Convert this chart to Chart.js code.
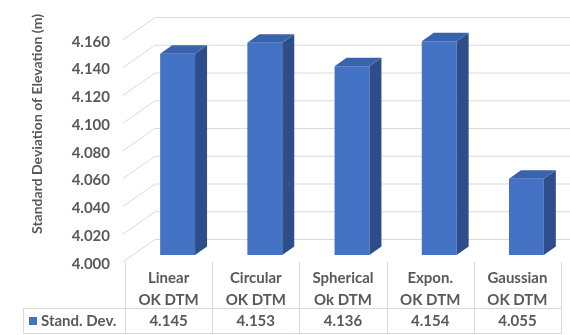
<!DOCTYPE html>
<html>
<head>
<meta charset="utf-8">
<script src="https://cdn.jsdelivr.net/npm/chart.js"></script>
<style>
html,body{margin:0;padding:0;background:#fff;}
#c{display:block;}
</style>
</head>
<body>
<canvas id="c" width="570" height="335"></canvas>
<script>
// ---- data ----
const categoryNames = ['Linear', 'Circular', 'Spherical', 'Expon.', 'Gaussian'];
const categorySubs  = ['OK DTM', 'OK DTM', 'Ok DTM', 'OK DTM', 'OK DTM'];
const seriesName    = 'Stand. Dev.';
const seriesValues  = [4.145, 4.153, 4.136, 4.154, 4.055];
const yTickValues   = [4.000, 4.020, 4.040, 4.060, 4.080, 4.100, 4.120, 4.140, 4.160];
const yTitle        = 'Standard Deviation of Elevation (m)';

// ---- style ----
const FONT = 'Lato';
const TEXT = '#595959';
const GRID = '#D9D9D9';
const FRONT = '#4472C4', TOPF = '#3A63AD', SIDE = '#2D4E8B';
const BAR_DX = 12, BAR_DY = -8.5;      // bar depth
const WALL_DX = 32;                     // side-wall depth (x)
const WALL_FRONT_DY = 6.8, WALL_BACK_DY = -15.5;
const FLOOR_SHIFT = -9;                 // floor front vs bar front (x)
const TABLE_MID = 308, TABLE_BOT = 333, LEGEND_LEFT = 23;
const LABEL_SIZE = 15;

const deco = {
  id: 'deco',
  beforeDatasetsDraw(chart) {
    const ctx = chart.ctx, y = chart.scales.y, x = chart.scales.x;
    const wallFrontX = x.left + FLOOR_SHIFT - 2;
    const wallBackX = wallFrontX + WALL_DX;
    ctx.save();
    ctx.strokeStyle = GRID; ctx.lineWidth = 1;
    y.ticks.forEach(t => {
      const p = y.getPixelForValue(t.value);
      ctx.beginPath();
      ctx.moveTo(wallFrontX, p + WALL_FRONT_DY);
      ctx.lineTo(wallBackX, p + WALL_BACK_DY);
      ctx.lineTo(chart.width, p + WALL_BACK_DY);
      ctx.stroke();
    });
    // table grid
    const n = categoryNames.length;
    const w = (x.right - x.left) / n;
    const top = y.getPixelForValue(y.min) + WALL_FRONT_DY;
    ctx.beginPath();
    for (let k = 0; k <= n; k++) {
      const bx = Math.round(x.left + k * w + FLOOR_SHIFT) + 0.5;
      ctx.moveTo(bx, top); ctx.lineTo(bx, TABLE_BOT);
    }
    ctx.moveTo(LEGEND_LEFT + 0.5, TABLE_MID); ctx.lineTo(LEGEND_LEFT + 0.5, TABLE_BOT);
    ctx.moveTo(LEGEND_LEFT, TABLE_MID + 0.5); ctx.lineTo(x.right + FLOOR_SHIFT + 1, TABLE_MID + 0.5);
    ctx.moveTo(LEGEND_LEFT, TABLE_BOT + 0.5); ctx.lineTo(x.right + FLOOR_SHIFT + 1, TABLE_BOT + 0.5);
    ctx.stroke();
    ctx.restore();
  },
  afterDatasetsDraw(chart) {
    const ctx = chart.ctx, ys = chart.scales.y;
    const meta = chart.getDatasetMeta(0);
    const b = ys.getPixelForValue(ys.min);
    ctx.save();
    meta.data.forEach(bar => {
      const p = bar.getProps(['x', 'y', 'width'], true);
      const l = p.x - p.width / 2, r = p.x + p.width / 2;
      const t = p.y;
      ctx.fillStyle = SIDE;
      ctx.beginPath();
      ctx.moveTo(r, t); ctx.lineTo(r + BAR_DX, t + BAR_DY);
      ctx.lineTo(r + BAR_DX, b + BAR_DY); ctx.lineTo(r, b); ctx.closePath(); ctx.fill();
      ctx.fillStyle = TOPF;
      ctx.beginPath();
      ctx.moveTo(l, t); ctx.lineTo(l + BAR_DX, t + BAR_DY);
      ctx.lineTo(r + BAR_DX, t + BAR_DY); ctx.lineTo(r, t); ctx.closePath(); ctx.fill();
    });
    ctx.restore();
  },
  afterDraw(chart) {
    const ctx = chart.ctx, x = chart.scales.x;
    const ds = chart.data.datasets[0];
    const rowY = (TABLE_MID + TABLE_BOT) / 2 + 0.5;
    ctx.save();
    ctx.fillStyle = TEXT;
    ctx.font = 'bold ' + LABEL_SIZE + 'px ' + FONT;
    ctx.textAlign = 'center'; ctx.textBaseline = 'middle';
    ds.data.forEach((v, i) => {
      ctx.fillText(v.toFixed(3), x.getPixelForValue(i) + FLOOR_SHIFT, rowY);
    });
    // legend key
    ctx.fillStyle = ds.backgroundColor;
    ctx.fillRect(29, rowY - 4, 8, 8);
    ctx.fillStyle = TEXT;
    ctx.textAlign = 'left';
    ctx.fillText(ds.label, 41, rowY);
    // y title
    ctx.translate(37.5, 124);
    ctx.rotate(-Math.PI / 2);
    ctx.textAlign = 'center';
    ctx.font = 'bold 14px ' + FONT;
    ctx.fillText(yTitle, 0, 0);
    ctx.restore();
  }
};

function draw() {
  new Chart(document.getElementById('c'), {
    type: 'bar',
    data: {
      labels: categoryNames.map((c, i) => [c, categorySubs[i]]),
      datasets: [{
        label: seriesName,
        data: seriesValues,
        backgroundColor: FRONT,
        borderWidth: 0,
        barPercentage: 0.4,
        categoryPercentage: 1
      }]
    },
    options: {
      responsive: false,
      animation: false,
      layout: { padding: { left: 0, right: 0, top: 28.2, bottom: 0 } },
      plugins: { legend: { display: false }, tooltip: { enabled: false }, title: { display: false } },
      scales: {
        x: {
          border: { display: false },
          grid: { display: false, drawTicks: false },
          ticks: {
            color: TEXT, padding: 12, labelOffset: FLOOR_SHIFT, maxRotation: 0, autoSkip: false,
            font: { family: FONT, size: LABEL_SIZE, weight: 'bold', lineHeight: 22 / LABEL_SIZE }
          },
          afterFit(s) { s.height = 80; }
        },
        y: {
          min: 4.0, max: 4.16,
          border: { display: false },
          grid: { display: false, drawTicks: false },
          afterBuildTicks(s) { s.ticks = yTickValues.map(v => ({ value: v })); },
          ticks: {
            color: TEXT, padding: 24, labelOffset: 8.8,
            font: { family: FONT, size: LABEL_SIZE, weight: 'bold' },
            callback: v => Number(v).toFixed(3)
          },
          afterFit(s) { s.width = 134; }
        }
      }
    },
    plugins: [deco]
  });
}
if (document.fonts && document.fonts.load) {
  Promise.all([document.fonts.load('bold 15px Lato'), document.fonts.load('bold 14px Lato')]).then(draw, draw);
} else { draw(); }
</script>
</body>
</html>
